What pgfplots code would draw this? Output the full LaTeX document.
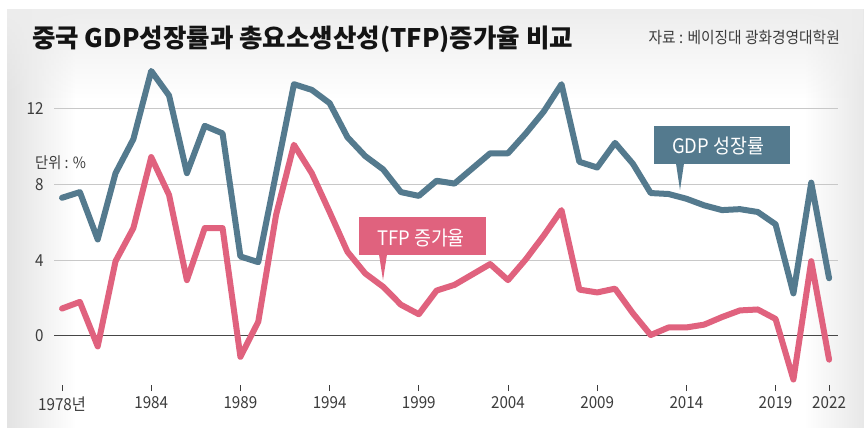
\documentclass[border=0pt]{standalone}
\usepackage{pgfplots}
\pgfplotsset{compat=1.18}
\usepackage{fontspec}
\usetikzlibrary{fadings}
\setmainfont{Noto Sans CJK KR}
\newfontfamily\titlefont{Noto Sans CJK KR}
\newfontfamily\tickfont[FakeStretch=0.92]{Noto Sans CJK KR}
\definecolor{gdp}{RGB}{84,122,142}
\definecolor{tfp}{RGB}{224,98,126}
\definecolor{gridc}{RGB}{200,200,200}
\definecolor{zeroc}{RGB}{70,70,70}
\definecolor{txt}{RGB}{60,60,60}

\pgfplotstableread{
year gdp tfp
1979 7.3 1.45
1980 7.6 1.8
1981 5.1 -0.55
1982 8.6 3.95
1983 10.4 5.7
1984 14.0 9.45
1985 12.7 7.45
1986 8.6 2.95
1987 11.1 5.7
1988 10.7 5.7
1989 4.2 -1.1
1990 3.9 0.75
1991 8.6 6.4
1992 13.3 10.1
1993 13.0 8.6
1994 12.3 6.55
1995 10.5 4.45
1996 9.5 3.3
1997 8.8 2.6
1998 7.6 1.65
1999 7.4 1.15
2000 8.2 2.4
2001 8.05 2.7
2002 8.85 3.25
2003 9.65 3.8
2004 9.65 2.95
2005 10.7 4.05
2006 11.85 5.3
2007 13.3 6.65
2008 9.2 2.45
2009 8.9 2.3
2010 10.2 2.5
2011 9.1 1.2
2012 7.55 0.05
2013 7.5 0.45
2014 7.25 0.45
2015 6.9 0.6
2016 6.65 1.0
2017 6.7 1.35
2018 6.55 1.4
2019 5.9 0.9
2020 2.25 -2.3
2021 8.1 3.95
2022 3.05 -1.25
}\datatable

\begin{document}
\begin{tikzpicture}[x=1pt,y=1pt]
\useasboundingbox (0,0) rectangle (864,428);
\fill[white] (0,0) rectangle (864,428);
\fill[black!11, path fading=east] (7,0) rectangle (75,419);
\fill[black!9, path fading=west] (805,0) rectangle (864,419);
\fill[black!7, path fading=south] (7,330) rectangle (864,419);

\node[anchor=base west, inner sep=0pt, text=black!92] at (32,380)
  {\titlefont\fontsize{25.5}{30}\selectfont\bfseries 중국 GDP성장률과 총요소생산성(TFP)증가율 비교};
\node[anchor=base east, inner sep=0pt, text=txt] at (840,384)
  {\tickfont\fontsize{16}{19}\selectfont 자료 : 베이징대 광화경영대학원};
\node[anchor=base west, inner sep=0pt, text=txt] at (35,259)
  {\tickfont\fontsize{15.5}{18}\selectfont 단위 : \%};

\begin{axis}[
  at={(54pt,42.8pt)}, anchor=south west,
  scale only axis, width=784pt, height=325.6pt,
  xmin=1978.55, xmax=2022.5, ymin=-2.6, ymax=14.6,
  axis line style={draw=none},
  xtick={1979,1984,1989,1994,1999,2004,2009,2014,2019,2022},
  xticklabels={1978년,1984,1989,1994,1999,2004,2009,2014,2019,2022},
  ytick={4,8,12},
  extra y ticks={0},
  extra y tick style={grid style={zeroc, line width=1pt}},
  ymajorgrids, grid style={gridc, line width=1.1pt},
  tick align=outside, major tick length=6pt,
  xtick pos=bottom, ytick style={draw=none},
  x tick style={txt, line width=0.8pt},
  tick label style={font=\tickfont\fontsize{16.5}{19}\selectfont, text=txt},
  /pgf/number format/assume math mode=true,
  xticklabel style={yshift=-2pt},
  yticklabel style={xshift=-1pt},
  clip=false,
]
\addplot[tfp, line width=6pt, line join=round, line cap=round] table[x=year,y=tfp] {\datatable};
\addplot[gdp, line width=6pt, line join=round, line cap=round] table[x=year,y=gdp] {\datatable};
\end{axis}

% annotation boxes
\fill[gdp] (654,264) rectangle (790,302);
\fill[gdp] (676,264.5) -- (680,238) -- (684,264.5) -- cycle;
\node[anchor=base, inner sep=0pt, text=white] at (718,274)
  {\tickfont\fontsize{20}{24}\selectfont GDP 성장률};
\fill[tfp] (359,173) rectangle (486,211);
\fill[tfp] (379,173.5) -- (383,148) -- (387,173.5) -- cycle;
\node[anchor=base, inner sep=0pt, text=white] at (421,182)
  {\tickfont\fontsize{20}{24}\selectfont TFP 증가율};
\end{tikzpicture}
\end{document}
